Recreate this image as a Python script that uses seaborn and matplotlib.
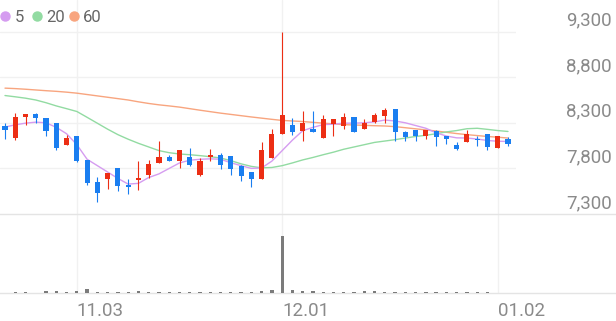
import numpy as np
import pandas as pd
import matplotlib
matplotlib.use("Agg")
import matplotlib.pyplot as plt
from matplotlib.lines import Line2D
import seaborn as sns

# ---- data ----
tick_pos = [7, 27, 48]
tick_labels = ["11.03", "12.01", "01.02"]
price_ticks = [7300, 7800, 8300, 8800, 9300]

opens = [8260, 8133, 8369, 8395, 8351, 8303, 8059, 8150, 7888, 7651,
         7684, 7804, 7614, 7676, 7731, 7859, 7920, 7877, 7920, 7731,
         7920, 7950, 7939, 7822, 7756, 7687, 7914, 8176, 8278, 8205,
         8234, 8133, 8286, 8270, 8362, 8231, 8314, 8377, 8450, 8198,
         8216, 8150, 8212, 8150, 8052, 8085, 8125, 8176, 8023, 8122]
highs = [8300, 8406, 8395, 8406, 8351, 8303, 8169, 8150, 7888, 7706,
         7750, 7804, 7687, 7877, 7895, 8095, 7950, 8005, 8023, 7910,
         8016, 7968, 7939, 7840, 7756, 8089, 8234, 9292, 8358, 8424,
         8424, 8388, 8340, 8406, 8362, 8340, 8406, 8461, 8450, 8205,
         8223, 8223, 8216, 8150, 8089, 8216, 8150, 8176, 8150, 8139]
lows = [8125, 8114, 8278, 8303, 8150, 7997, 8059, 7873, 7618, 7437,
        7575, 7549, 7523, 7567, 7695, 7859, 7877, 7804, 7830, 7713,
        7877, 7797, 7731, 7665, 7597, 7687, 7914, 8176, 8169, 8095,
        8194, 8133, 8150, 8231, 8194, 8231, 8303, 8303, 8095, 8095,
        8095, 8122, 8048, 8070, 7997, 8085, 8048, 7997, 8023, 8041]
closes = [8223, 8362, 8395, 8351, 8205, 8023, 8133, 7884, 7640, 7530,
          7750, 7603, 7592, 7695, 7851, 7920, 7877, 7997, 7840, 7877,
          7950, 7840, 7797, 7713, 7687, 8005, 8176, 8388, 8198, 8296,
          8194, 8340, 8340, 8362, 8194, 8303, 8388, 8435, 8194, 8144,
          8150, 8216, 8144, 8125, 8016, 8180, 8106, 8030, 8150, 8067]
ma5 = [8253, 8278, 8296, 8307, 8300, 8250, 8180, 8060, 7900, 7830,
       7760, 7690, 7628, 7636, 7700, 7740, 7800, 7860, 7890, 7900,
       7905, 7900, 7862, 7830, 7800, 7805, 7880, 7995, 8110, 8213,
       8250, 8280, 8285, 8296, 8296, 8300, 8310, 8330, 8320, 8300,
       8270, 8240, 8190, 8155, 8135, 8133, 8122, 8106, 8098, 8095]
ma20 = [8599, 8585, 8570, 8550, 8520, 8485, 8455, 8424, 8360, 8295,
        8230, 8170, 8120, 8075, 8035, 7995, 7972, 7958, 7950, 7940,
        7928, 7914, 7885, 7850, 7822, 7806, 7810, 7830, 7860, 7893,
        7920, 7950, 7978, 8010, 8035, 8060, 8085, 8100, 8115, 8133,
        8150, 8163, 8180, 8200, 8215, 8235, 8240, 8228, 8215, 8205]
ma60 = [8680, 8675, 8668, 8660, 8652, 8645, 8636, 8625, 8610, 8595,
        8580, 8565, 8550, 8530, 8512, 8497, 8485, 8472, 8455, 8438,
        8422, 8406, 8392, 8378, 8364, 8351, 8338, 8326, 8320, 8314,
        8305, 8296, 8288, 8280, 8276, 8272, 8268, 8265, 8258, 8246,
        8234, 8222, 8210, 8196, 8182, 8170, 8160, 8150, 8142, 8133]
volume = [7000, 10000, 10000, 7000, 20000, 20000, 10000, 20000, 40000, 15000,
          10000, 10000, 10000, 20000, 10000, 10000, 10000, 10000, 10000, 10000,
          10000, 10000, 10000, 10000, 15000, 20000, 30000, 570000, 33000, 27000,
          25000, 13000, 10000, 10000, 15000, 25000, 27000, 15000, 10000, 10000,
          10000, 10000, 10000, 10000, 10000, 10000, 10000, 10000, 7000, 7000]

idx = np.arange(len(closes))
df = pd.DataFrame({"i": idx, "open": opens, "high": highs, "low": lows,
                   "close": closes, "ma5": ma5, "ma20": ma20, "ma60": ma60,
                   "vol": volume})

# ---- style ----
sns.set_theme(style="white")
plt.rcParams["font.family"] = ["Roboto", "DejaVu Sans"]

RED = "#ec2e14"
BLUE = "#1a7ef0"
C5 = "#d59cf0"
C20 = "#92dba2"
C60 = "#f8a57f"
GRID = "#f1f1f1"
SEP = "#e4e4e4"
TXT = "#8a8a8a"

W, H = 616, 321
fig = plt.figure(figsize=(W / 100, H / 100), dpi=100)

step = 10.265
x0 = 5
price_bottom_px = 214
vol_base_px = 293.3
plot_w = 516

ax = fig.add_axes([0, 1 - price_bottom_px / H, plot_w / W, price_bottom_px / H])
axv = fig.add_axes([0, 1 - vol_base_px / H, 1, (vol_base_px - price_bottom_px) / H])

xl = -x0 / step
ax.set_xlim(xl, (plot_w - x0) / step)
ppp = 500 / 45.6  # price per pixel
ax.set_ylim(7300, 7300 + price_bottom_px * ppp)

# grid lines
for v in price_ticks[1:]:
    ax.axhline(v, color=GRID, lw=1, zorder=0)
for p in tick_pos:
    ax.axvline(p, color=GRID, lw=1, zorder=0)

# MA lines
sns.lineplot(data=df, x="i", y="ma60", ax=ax, color=C60, lw=1.0, zorder=2)
sns.lineplot(data=df, x="i", y="ma20", ax=ax, color=C20, lw=1.0, zorder=2)
sns.lineplot(data=df, x="i", y="ma5", ax=ax, color=C5, lw=1.0, zorder=2)

# candles
up = df["close"] >= df["open"]
cols = np.where(up, RED, BLUE)
ax.vlines(df["i"], df["low"], df["high"], colors=cols, lw=0.8, zorder=3)
body_bot = np.minimum(df["open"], df["close"])
body_h = np.maximum(np.abs(df["close"] - df["open"]), 12)
ax.bar(df["i"], body_h, bottom=body_bot, width=0.5, color=cols, lw=0, zorder=4)

for s in ax.spines.values():
    s.set_visible(False)
ax.set_xticks([])
ax.set_yticks([])
ax.set_xlabel("")
ax.set_ylabel("")

# price labels on the right
ytr = ax.get_yaxis_transform()
for v in price_ticks:
    ax.text(612 / plot_w, v + 6 * ppp, f"{v:,}", transform=ytr, ha="right",
            va="baseline", fontsize=13.5, color=TXT, clip_on=False)

# volume
axv.bar(df["i"], df["vol"], width=0.32, color="#7b7b7b", lw=0, zorder=3)
axv.set_xlim(xl, (W - x0) / step)
axv.set_ylim(0, max(volume) * (vol_base_px - price_bottom_px) / 57.3)
for p in tick_pos:
    axv.axvline(p, color=GRID, lw=1, zorder=0)
for k, s in axv.spines.items():
    if k in ("top", "bottom"):
        s.set_visible(True)
        s.set_color(SEP)
        s.set_linewidth(1)
    else:
        s.set_visible(False)
axv.set_yticks([])
axv.set_xticks(tick_pos)
axv.set_xticklabels(tick_labels, ha="left")
axv.tick_params(axis="x", length=0, pad=6, labelsize=13.5, labelcolor=TXT)
axv.set_xlabel("")
axv.set_ylabel("")

# legend
for cx, col, lab, tx in [(5, C5, "5", 15), (36.5, C20, "20", 46), (74, C60, "60", 83)]:
    fig.add_artist(Line2D([cx / W], [1 - 15.7 / H], marker="o", markersize=6.5,
                          color=col, lw=0, transform=fig.transFigure))
    fig.text(tx / W, 1 - 21.7 / H, lab, ha="left", va="baseline",
             fontsize=12, color="#666666")

fig.savefig("out.png", dpi=100)
